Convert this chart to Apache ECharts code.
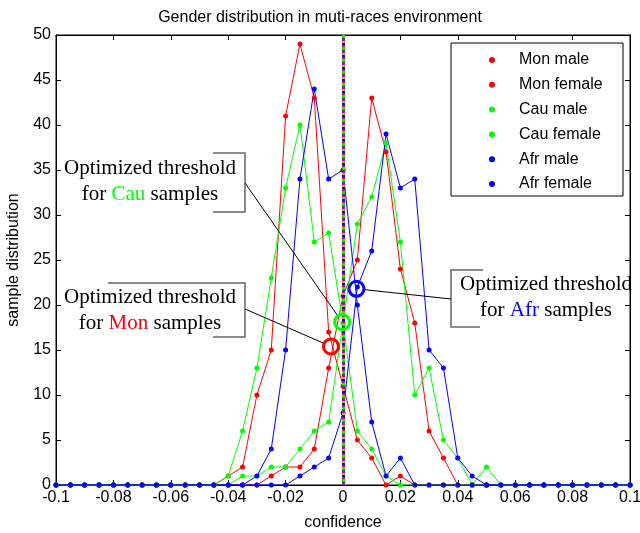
<!DOCTYPE html>
<html>
<head>
<meta charset="utf-8">
<script src="https://cdn.jsdelivr.net/npm/echarts@6/dist/echarts.min.js"></script>
<style>
html, body { margin: 0; padding: 0; background: #fff; }
#chart { width: 640px; height: 533px; }
</style>
</head>
<body>
<div id="chart"></div>
<script>
// confidence bins
var confidence = [-0.1, -0.095, -0.09, -0.085, -0.08, -0.075, -0.07, -0.065, -0.06, -0.055,
    -0.05, -0.045, -0.04, -0.035, -0.03, -0.025, -0.02, -0.015, -0.01, -0.005,
    0, 0.005, 0.01, 0.015, 0.02, 0.025, 0.03, 0.035, 0.04, 0.045,
    0.05, 0.055, 0.06, 0.065, 0.07, 0.075, 0.08, 0.085, 0.09, 0.095, 0.1];

var monMale   = [0,0,0,0,0,0,0,0,0,0, 0,0,1,2,10,15,41,49,43,17, 11,5,3,0,1,0,0,0,0,0, 0,0,0,0,0,0,0,0,0,0,0];
var monFemale = [0,0,0,0,0,0,0,0,0,0, 0,0,0,0,0,1,2,2,4,13, 21,25,43,37,24,18,6,3,0,0, 0,0,0,0,0,0,0,0,0,0,0];
var cauMale   = [0,0,0,0,0,0,0,0,0,0, 0,0,1,6,13,23,33,40,27,28, 18,6,4,1,0,0,0,0,0,0, 0,0,0,0,0,0,0,0,0,0,0];
var cauFemale = [0,0,0,0,0,0,0,0,0,0, 0,0,0,1,1,2,2,4,6,7, 18,29,32,38,27,10,13,5,3,0, 2,0,0,0,0,0,0,0,0,0,0];
var afrMale   = [0,0,0,0,0,0,0,0,0,0, 0,0,0,0,1,4,15,34,44,34, 35,20,7,1,3,0,0,0,0,0, 0,0,0,0,0,0,0,0,0,0,0];
var afrFemale = [0,0,0,0,0,0,0,0,0,0, 0,0,0,0,0,0,0,1,2,3, 8,22,26,39,33,34,15,13,3,1, 0,0,0,0,0,0,0,0,0,0,0];

var seriesNames = ['Mon male', 'Mon female', 'Cau male', 'Cau female', 'Afr male', 'Afr female'];
var seriesColors = ['#ff0000', '#ff0000', '#00ff00', '#00ff00', '#0000ff', '#0000ff'];
var seriesValues = [monMale, monFemale, cauMale, cauFemale, afrMale, afrFemale];

// threshold markers [confidence, samples]
var monThreshold = [-0.0042, 15.4];
var cauThreshold = [-0.0003, 18.1];
var afrThreshold = [0.0047, 21.8];

var xTicks = [-0.1, -0.08, -0.06, -0.04, -0.02, 0, 0.02, 0.04, 0.06, 0.08, 0.1];

var sansFont = 'Liberation Sans, Arial, Helvetica, sans-serif';
var serifFont = 'Liberation Serif, Times New Roman, serif';

var chart = echarts.init(document.getElementById('chart'));

var series = [];
for (var s = 0; s < seriesNames.length; s++) {
    var pts = [];
    for (var i = 0; i < confidence.length; i++) {
        pts.push([confidence[i], seriesValues[s][i]]);
    }
    series.push({
        name: seriesNames[s],
        type: 'line',
        data: pts,
        symbol: 'circle',
        symbolSize: 5,
        showAllSymbol: true,
        color: seriesColors[s],
        lineStyle: { width: 1, color: seriesColors[s] },
        itemStyle: { color: seriesColors[s] },
        animation: false,
        z: 3
    });
}

// multi coloured dotted threshold line at zero
var zeroLines = [
    { c: '#00bfbf', t: 'solid', o: 0 },
    { c: '#bf00bf', t: [2, 10], o: 0 },
    { c: '#bfbf00', t: [2, 10], o: 2 },
    { c: '#0000ff', t: [2, 10], o: 4 },
    { c: '#ff0000', t: [2, 10], o: 6 },
    { c: '#00ff00', t: [2, 10], o: 8 },
    { c: '#404040', t: [1, 11], o: 10 }
];
series.push({
    name: 'zero',
    type: 'line',
    data: [],
    silent: true,
    animation: false,
    z: 4,
    markLine: {
        silent: true,
        symbol: ['none', 'none'],
        label: { show: false },
        animation: false,
        data: zeroLines.map(function (z) {
            return { xAxis: 0, lineStyle: { color: z.c, width: 3, type: z.t, dashOffset: z.o } };
        })
    }
});

chart.setOption({
    animation: false,
    title: {
        text: 'Gender distribution in muti-races environment',
        left: 'center',
        top: 5,
        textStyle: { fontFamily: sansFont, fontSize: 16, fontWeight: 'normal', color: '#000' }
    },
    legend: {
        data: seriesNames,
        orient: 'vertical',
        left: 484,
        top: 47,
        icon: 'circle',
        itemWidth: 6,
        itemHeight: 14,
        itemGap: 8.8,
        textStyle: { fontFamily: sansFont, fontSize: 16, color: '#000', padding: [0, 0, 0, 19] }
    },
    grid: { left: 56, right: 10, top: 35, bottom: 48, show: true, borderColor: '#000', borderWidth: 1,
        containLabel: false, outerBoundsMode: 'none' },
    xAxis: [{
        type: 'value',
        min: -0.1,
        max: 0.1,
        interval: 0.02,
        name: 'confidence',
        nameLocation: 'middle',
        nameGap: 30,
        nameTextStyle: { fontFamily: sansFont, fontSize: 16, color: '#000' },
        axisLine: { onZero: false, lineStyle: { color: '#000' } },
        axisTick: { inside: true, length: 5, lineStyle: { color: '#000' } },
        axisLabel: {
            fontFamily: sansFont, fontSize: 16, color: '#000', margin: 5,
            formatter: function (v) {
                var r = Math.round(v * 100) / 100;
                return xTicks.indexOf(r) >= 0 ? String(r) : '';
            }
        },
        splitLine: { show: false }
    }, {
        type: 'value',
        position: 'top',
        min: -0.1,
        max: 0.1,
        interval: 0.02,
        axisLine: { onZero: false, lineStyle: { color: '#000' } },
        axisTick: { inside: true, length: 5, lineStyle: { color: '#000' } },
        axisLabel: { show: false },
        splitLine: { show: false }
    }],
    yAxis: [{
        type: 'value',
        min: 0,
        max: 50,
        interval: 5,
        name: 'sample distribution',
        nameLocation: 'middle',
        nameGap: 34,
        nameTextStyle: { fontFamily: sansFont, fontSize: 16, color: '#000' },
        axisLine: { show: true, onZero: false, lineStyle: { color: '#000' } },
        axisTick: { show: true, inside: true, length: 5, lineStyle: { color: '#000' } },
        axisLabel: { fontFamily: sansFont, fontSize: 16, color: '#000', margin: 5 },
        splitLine: { show: false }
    }, {
        type: 'value',
        position: 'right',
        min: 0,
        max: 50,
        interval: 5,
        axisLine: { show: true, onZero: false, lineStyle: { color: '#000' } },
        axisTick: { show: true, inside: true, length: 5, lineStyle: { color: '#000' } },
        axisLabel: { show: false },
        splitLine: { show: false }
    }],
    series: series
});

// annotations: boxes, texts, connectors and threshold circles
function px(p) { return chart.convertToPixel({ gridIndex: 0 }, p); }
function connector(from, center, r) {
    var dx = center[0] - from[0], dy = center[1] - from[1];
    var d = Math.sqrt(dx * dx + dy * dy);
    return { type: 'line', shape: { x1: from[0], y1: from[1], x2: center[0] - dx / d * r, y2: center[1] - dy / d * r },
        style: { stroke: '#000', lineWidth: 1 }, z: 10 };
}
function ring(center, color) {
    return { type: 'circle', shape: { cx: center[0], cy: center[1], r: 7.5 },
        style: { fill: 'none', stroke: color, lineWidth: 3 }, z: 11 };
}
function label(x, y, word, color) {
    return {
        type: 'text', x: x, y: y, z: 12,
        style: {
            text: '{a|Optimized threshold}\n{a|for }{c|' + word + '}{a| samples}',
            align: 'center',
            verticalAlign: 'top',
            rich: {
                a: { fontFamily: serifFont, fontSize: 21, fill: '#000', lineHeight: 26 },
                c: { fontFamily: serifFont, fontSize: 21, fill: color, lineHeight: 26 }
            }
        }
    };
}
function edges(points) {
    return { type: 'polyline', shape: { points: points }, style: { stroke: '#666', lineWidth: 1.5, fill: 'none' }, z: 9 };
}

var monC = px(monThreshold), cauC = px(cauThreshold), afrC = px(afrThreshold);

chart.setOption({
    graphic: [
        { type: 'rect', shape: { x: 451, y: 43, width: 172, height: 153 }, style: { fill: 'none', stroke: '#000', lineWidth: 1 }, z: 9 },
        edges([[213, 153], [245, 153], [245, 212], [213, 212]]),
        edges([[108, 283], [245, 283], [245, 337], [213, 337]]),
        edges([[483, 270], [451, 270], [451, 327], [480, 327]]),
        connector([245, 183], cauC, 8.5),
        connector([245, 309], monC, 8.5),
        connector([451, 299], afrC, 8.5),
        ring(monC, '#ff0000'),
        ring(cauC, '#00ff00'),
        ring(afrC, '#0000ff'),
        label(150, 155, 'Cau', '#00ff00'),
        label(150, 284, 'Mon', '#ff0000'),
        label(546, 271, 'Afr', '#0000ff')
    ]
});
</script>
</body>
</html>
